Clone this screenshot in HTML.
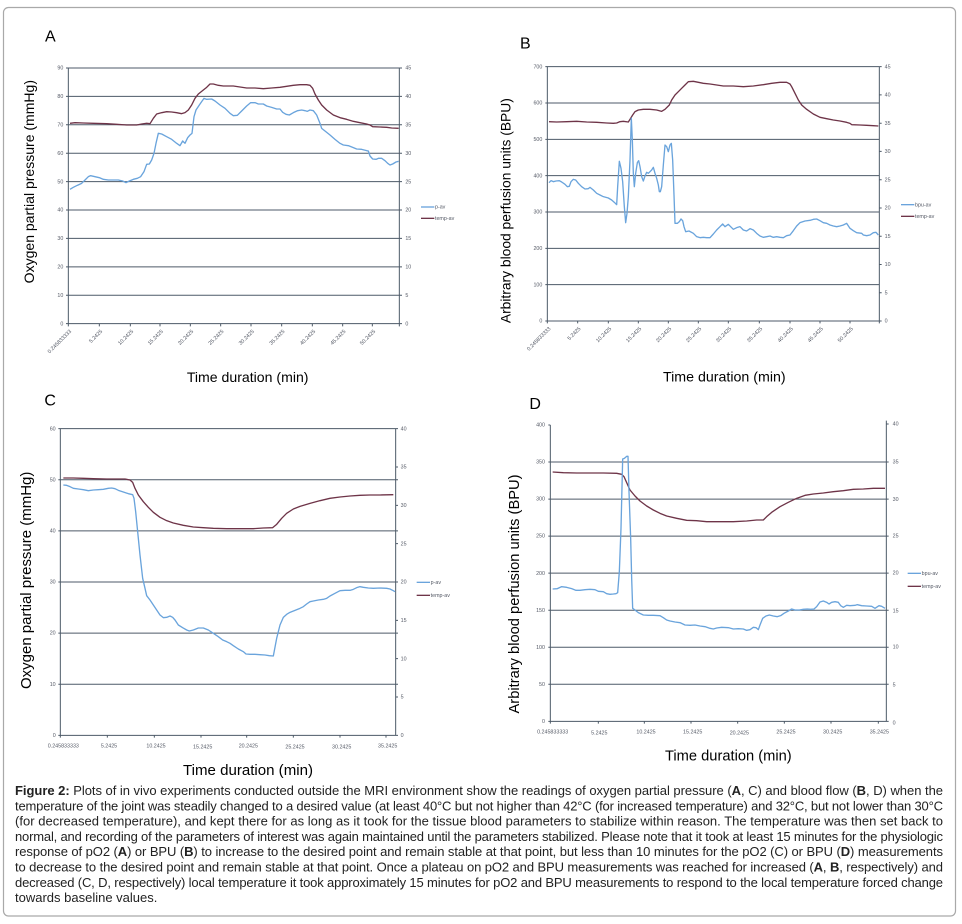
<!DOCTYPE html>
<html><head><meta charset="utf-8"><style>
html,body{margin:0;padding:0;background:#fff;}
svg{display:block;}
.ax{stroke:#4d5a68;stroke-width:3;fill:none;}
.b{fill:none;stroke:#6aa4dc;stroke-width:4;stroke-linejoin:round;}
.m{fill:none;stroke:#6e3448;stroke-width:4;stroke-linejoin:round;}
.tk{font-family:"Liberation Sans",sans-serif;font-size:16px;fill:#555a66;}
.tt{font-family:"Liberation Sans",sans-serif;fill:#000;}
.cap{font-family:"Liberation Sans",sans-serif;font-size:13px;fill:#222;}
</style></head><body>
<svg width="962" height="924" viewBox="0 0 962 924" xmlns="http://www.w3.org/2000/svg">
<rect x="0" y="0" width="962" height="924" fill="#fff"/>
<rect x="3.5" y="7.5" width="952" height="908.5" rx="5" fill="none" stroke="#a9a9a9" stroke-width="1.2"/>

<!-- Panel A -->
<g transform="scale(0.333333)">
<path class="ax" d="M198 204H1206M198 289.2H1206M198 374.4H1206M198 459.7H1206M198 544.9H1206M198 630.1H1206M198 715.3H1206M198 800.6H1206M198 885.8H1206M198 971H1206M205 204V979M1198 204V979"/>
<path class="ax" d="M298 971V979M391 971V979M480 971V979M571 971V979M662 971V979M753 971V979M845 971V979M937 971V979M1028 971V979M1117 971V979"/>
<g class="tk" text-anchor="end">
<text x="190" y="209">90</text><text x="190" y="294">80</text><text x="190" y="379">70</text><text x="190" y="465">60</text><text x="190" y="550">50</text><text x="190" y="635">40</text><text x="190" y="720">30</text><text x="190" y="806">20</text><text x="190" y="891">10</text><text x="190" y="976">0</text>
</g>
<g class="tk">
<text x="1216" y="209">45</text><text x="1216" y="294">40</text><text x="1216" y="379">35</text><text x="1216" y="465">30</text><text x="1216" y="550">25</text><text x="1216" y="635">20</text><text x="1216" y="720">15</text><text x="1216" y="806">10</text><text x="1216" y="891">5</text><text x="1216" y="976">0</text>
</g>
<g class="tk" text-anchor="end">
<text transform="translate(215,995) rotate(-45)">0.245833333</text>
<text transform="translate(308,995) rotate(-45)">5.2425</text>
<text transform="translate(401,995) rotate(-45)">10.2425</text>
<text transform="translate(490,995) rotate(-45)">15.2425</text>
<text transform="translate(581,995) rotate(-45)">20.2425</text>
<text transform="translate(672,995) rotate(-45)">25.2425</text>
<text transform="translate(763,995) rotate(-45)">30.2425</text>
<text transform="translate(855,995) rotate(-45)">35.2425</text>
<text transform="translate(947,995) rotate(-45)">40.2425</text>
<text transform="translate(1038,995) rotate(-45)">45.2425</text>
<text transform="translate(1127,995) rotate(-45)">50.2425</text>
</g>
<polyline class="m" points="210,370 225,368 250,369 280,370 320,371 350,373 380,375 410,375 425,372 440,370 450,371 460,355 470,342 485,338 500,335 515,336 530,338 545,341 555,338 565,330 575,315 585,295 595,282 610,270 620,262 630,252 640,252 655,256 670,258 700,258 720,261 740,264 765,264 790,266 815,264 840,262 860,259 880,256 900,254 920,254 930,256 938,265 945,282 955,300 965,315 980,330 1000,345 1020,353 1040,358 1060,364 1080,368 1100,372 1110,375 1118,380 1140,381 1160,382 1175,384 1196,385"/>
<polyline class="b" points="210,568 220,562 232,556 245,550 255,540 265,530 272,527 285,530 298,533 310,538 325,540 340,540 355,540 368,543 378,548 388,543 400,538 412,535 422,530 432,515 440,493 448,492 455,480 462,460 468,430 475,400 485,402 500,410 515,418 530,430 540,437 548,423 555,430 563,413 570,405 576,400 582,350 588,330 598,315 605,305 612,295 620,298 635,297 645,303 660,315 675,325 690,340 700,347 712,346 725,333 740,318 752,308 765,308 775,312 790,312 800,318 815,322 830,327 840,327 848,337 858,343 868,345 880,338 893,332 905,330 915,332 922,334 930,330 940,332 950,345 960,370 965,385 975,393 990,405 1005,418 1020,430 1030,435 1045,437 1060,443 1070,447 1085,448 1100,452 1105,453 1110,468 1118,477 1128,478 1135,475 1145,475 1155,482 1163,490 1170,495 1178,492 1188,486 1196,484"/>
<line x1="1263" y1="621" x2="1303" y2="621" stroke="#6aa4dc" stroke-width="4"/>
<line x1="1263" y1="655" x2="1303" y2="655" stroke="#6e3448" stroke-width="4"/>
<text class="tk" x="1305" y="626">p-av</text>
<text class="tk" x="1305" y="660">temp-av</text>
<text class="tt" x="135" y="125" font-size="48">A</text>
<text class="tt" font-size="42" text-anchor="middle" transform="translate(102,545) rotate(-90)" textLength="610" lengthAdjust="spacingAndGlyphs">Oxygen partial pressure (mmHg)</text>
<text class="tt" x="743" y="1146" font-size="42" text-anchor="middle" textLength="365" lengthAdjust="spacingAndGlyphs">Time duration (min)</text>
</g>

<!-- Panel B -->
<g transform="translate(480,0) scale(0.333333)">
<path class="ax" d="M196 200H1198M196 309H1198M196 418H1198M196 527H1198M196 636H1198M196 745H1198M196 854H1198M196 963H1198M202 200V970M1198 200V970"/>
<path class="ax" d="M1198 284.8H1205M1198 369.6H1205M1198 454.3H1205M1198 539.1H1205M1198 623.9H1205M1198 708.7H1205M1198 793.4H1205M1198 878.2H1205M1198 963H1205M1198 200H1205"/>
<path class="ax" d="M293 963V970M385 963V970M475 963V970M565 963V970M655 963V970M745 963V970M838 963V970M930 963V970M1020 963V970M1110 963V970"/>
<g class="tk" text-anchor="end">
<text x="187" y="205">700</text><text x="187" y="314">600</text><text x="187" y="423">500</text><text x="187" y="532">400</text><text x="187" y="641">300</text><text x="187" y="750">200</text><text x="187" y="859">100</text><text x="187" y="968">0</text>
</g>
<g class="tk">
<text x="1214" y="205">45</text><text x="1214" y="290">40</text><text x="1214" y="375">35</text><text x="1214" y="459">30</text><text x="1214" y="544">25</text><text x="1214" y="629">20</text><text x="1214" y="714">15</text><text x="1214" y="798">10</text><text x="1214" y="883">5</text><text x="1214" y="968">0</text>
</g>
<g class="tk" text-anchor="end">
<text transform="translate(213,987) rotate(-45)">0.245833333</text>
<text transform="translate(303,987) rotate(-45)">5.2425</text>
<text transform="translate(395,987) rotate(-45)">10.2425</text>
<text transform="translate(485,987) rotate(-45)">15.2425</text>
<text transform="translate(575,987) rotate(-45)">20.2425</text>
<text transform="translate(665,987) rotate(-45)">25.2425</text>
<text transform="translate(755,987) rotate(-45)">30.2425</text>
<text transform="translate(848,987) rotate(-45)">35.2425</text>
<text transform="translate(940,987) rotate(-45)">40.2425</text>
<text transform="translate(1030,987) rotate(-45)">45.2425</text>
<text transform="translate(1120,987) rotate(-45)">50.2425</text>
</g>
<polyline class="m" points="207,365 230,366 260,365 290,364 320,366 350,367 380,369 400,370 410,369 420,365 430,364 445,366 450,358 458,345 465,335 475,330 490,328 510,328 530,330 545,334 555,328 568,315 575,300 585,285 595,275 605,265 615,255 625,245 640,244 655,247 670,250 690,252 710,255 730,258 760,258 790,260 820,258 850,254 875,250 900,247 920,247 930,252 935,260 945,280 955,300 965,315 980,328 1000,342 1020,352 1040,356 1060,360 1080,363 1100,367 1110,370 1115,374 1140,375 1160,376 1180,377 1195,378"/>
<polyline class="b" points="207,548 213,542 220,545 228,543 238,542 245,546 255,553 262,560 268,559 273,545 280,538 287,540 295,550 305,560 315,567 325,566 330,562 340,570 350,580 360,585 370,590 385,594 395,600 403,607 410,614 413,560 418,484 423,505 428,545 433,620 437,668 441,640 445,590 450,480 454,355 457,420 460,520 463,560 467,520 472,488 476,482 480,500 485,530 490,543 495,528 500,517 505,520 510,515 515,510 520,502 525,520 530,535 535,555 538,575 541,575 545,560 550,495 555,435 560,440 565,455 570,435 574,430 578,480 582,585 585,670 592,670 598,665 603,657 608,662 612,680 617,695 627,693 640,700 650,710 660,713 670,712 680,713 690,713 700,702 710,690 720,680 728,672 735,680 745,673 752,680 760,688 770,683 780,680 790,690 800,693 810,686 820,690 830,700 840,708 850,712 860,710 870,708 880,712 890,710 900,712 910,713 920,707 930,705 940,692 950,678 960,668 975,663 990,661 1000,658 1010,657 1020,662 1030,668 1040,670 1050,675 1060,678 1070,680 1080,678 1090,675 1100,670 1110,685 1120,692 1130,698 1145,700 1150,705 1160,707 1170,705 1180,698 1188,697 1195,705"/>
<line x1="1263" y1="614" x2="1303" y2="614" stroke="#6aa4dc" stroke-width="4"/>
<line x1="1263" y1="649" x2="1303" y2="649" stroke="#6e3448" stroke-width="4"/>
<text class="tk" x="1305" y="619">bpu-av</text>
<text class="tk" x="1305" y="654">temp-av</text>
<text class="tt" x="120" y="145" font-size="48">B</text>
<text class="tt" font-size="42" text-anchor="middle" transform="translate(92,632) rotate(-90)" textLength="675" lengthAdjust="spacingAndGlyphs">Arbitrary blood perfusion units (BPU)</text>
<text class="tt" x="733" y="1145" font-size="42" text-anchor="middle" textLength="368" lengthAdjust="spacingAndGlyphs">Time duration (min)</text>
</g>

<!-- Panel C -->
<g transform="translate(0,385) scale(0.333333)">
<path class="ax" d="M175 131H1194M175 284.3H1194M175 437.7H1194M175 591H1194M175 744.3H1194M175 897.7H1194M175 1051H1194M181 131V1058M1187 131V1051"/>
<path class="ax" d="M1187 246H1194M1187 361H1194M1187 476H1194M1187 706H1194M1187 821H1194M1187 936H1194"/>
<path class="ax" d="M322 1051V1058M463 1051V1058M603 1051V1058M740 1051V1058M880 1051V1058M1020 1051V1058M1158 1051V1058"/>
<g class="tk" text-anchor="end">
<text x="167" y="136">60</text><text x="167" y="289">50</text><text x="167" y="443">40</text><text x="167" y="596">30</text><text x="167" y="749">20</text><text x="167" y="903">10</text><text x="167" y="1056">0</text>
</g>
<g class="tk">
<text x="1202" y="136">40</text><text x="1202" y="251">35</text><text x="1202" y="366">30</text><text x="1202" y="481">25</text><text x="1202" y="596">20</text><text x="1202" y="711">15</text><text x="1202" y="826">10</text><text x="1202" y="941">5</text><text x="1202" y="1056">0</text>
</g>
<g class="tk" text-anchor="middle">
<text x="190" y="1088">0.245833333</text><text x="327" y="1088">5.2425</text><text x="468" y="1088">10.2425</text><text x="608" y="1091">15.2425</text><text x="745" y="1088">20.2425</text><text x="885" y="1091">25.2425</text><text x="1025" y="1091">30.2425</text><text x="1163" y="1088">35.2425</text>
</g>
<polyline class="m" points="190,279 220,279 250,280 280,281 320,282 350,282 375,282 390,285 398,292 405,310 415,330 430,350 445,367 460,382 480,397 500,407 520,414 550,421 580,426 610,428 640,430 680,431 720,431 760,431 790,429 818,428 830,418 845,400 860,385 880,372 900,364 930,355 960,347 990,340 1020,336 1050,333 1080,331 1110,330 1140,330 1180,329"/>
<polyline class="b" points="190,300 200,301 210,305 220,310 235,312 250,314 265,317 280,315 295,314 310,313 325,310 335,309 345,311 355,316 370,321 385,326 398,329 402,340 407,380 413,440 420,510 428,580 435,610 440,632 450,645 460,660 470,675 480,690 490,698 500,697 510,693 518,697 525,705 535,720 548,728 560,735 568,738 580,735 595,729 610,729 625,735 640,745 655,755 668,765 680,770 690,775 700,782 715,792 730,800 738,807 750,808 765,808 780,809 795,810 808,812 820,813 830,760 840,720 850,697 860,688 870,682 885,676 900,670 910,665 920,657 930,650 940,648 955,645 970,643 980,640 990,633 1005,625 1020,617 1035,616 1050,616 1060,613 1070,608 1080,605 1090,607 1105,609 1120,610 1140,609 1160,610 1170,612 1180,617 1185,620"/>
<line x1="1250" y1="592" x2="1290" y2="592" stroke="#6aa4dc" stroke-width="4"/>
<line x1="1250" y1="631" x2="1290" y2="631" stroke="#6e3448" stroke-width="4"/>
<text class="tk" x="1292" y="597">p-av</text>
<text class="tk" x="1292" y="636">temp-av</text>
<text class="tt" x="133" y="62" font-size="48">C</text>
<text class="tt" font-size="45" text-anchor="middle" transform="translate(93,586) rotate(-90)" textLength="652" lengthAdjust="spacingAndGlyphs">Oxygen partial pressure (mmHg)</text>
<text class="tt" x="744" y="1170" font-size="45" text-anchor="middle" textLength="390" lengthAdjust="spacingAndGlyphs">Time duration (min)</text>
</g>

<!-- Panel D -->
<g transform="translate(480,385) scale(0.333333)">
<path class="ax" d="M205 231.1H1226M205 342.3H1226M205 453.4H1226M205 564.5H1226M205 675.6H1226M205 786.8H1226M205 897.9H1226M205 1009H1226M205 120H211M211 120V1016M1219 107V1009"/>
<path class="ax" d="M1219 117H1226"/>
<path class="ax" d="M355 1009V1016M493 1009V1016M633 1009V1016M773 1009V1016M913 1009V1016M1053 1009V1016M1195 1009V1016"/>
<g class="tk" text-anchor="end">
<text x="195" y="125">400</text><text x="195" y="236">350</text><text x="195" y="347">300</text><text x="195" y="458">250</text><text x="195" y="570">200</text><text x="195" y="681">150</text><text x="195" y="792">100</text><text x="195" y="903">50</text><text x="195" y="1014">0</text>
</g>
<g class="tk">
<text x="1238" y="122">40</text><text x="1238" y="235">35</text><text x="1238" y="348">30</text><text x="1238" y="457">25</text><text x="1238" y="569">20</text><text x="1238" y="682">15</text><text x="1238" y="791">10</text><text x="1238" y="904">5</text><text x="1238" y="1018">0</text>
</g>
<g class="tk" text-anchor="middle">
<text x="218" y="1045">0.245833333</text><text x="358" y="1049">5.2425</text><text x="498" y="1045">10.2425</text><text x="638" y="1045">15.2425</text><text x="778" y="1049">20.2425</text><text x="918" y="1045">25.2425</text><text x="1058" y="1045">30.2425</text><text x="1198" y="1045">35.2425</text>
</g>
<polyline class="m" points="218,261 250,263 290,264 330,264 370,264 410,265 425,268 432,275 440,293 450,315 465,333 480,348 500,363 520,375 540,385 560,393 590,400 620,406 650,407 680,410 720,410 760,410 800,408 830,405 850,405 860,395 875,382 900,365 925,352 950,340 975,331 1000,327 1030,324 1060,320 1090,317 1120,313 1150,312 1180,310 1215,310"/>
<polyline class="b" points="218,612 232,611 245,605 260,607 275,611 288,616 300,616 315,614 330,613 345,614 355,619 370,620 380,626 390,628 400,627 408,626 413,623 418,560 423,430 428,222 433,220 440,214 444,214 447,320 452,460 455,580 458,670 465,675 475,683 490,690 505,691 520,691 540,692 550,698 560,705 570,708 585,711 600,713 615,720 630,721 645,720 660,723 675,725 690,730 700,732 710,729 725,727 745,728 760,732 775,731 790,732 800,736 810,734 820,727 828,728 835,734 840,720 848,700 858,693 868,690 880,693 892,695 902,692 912,685 925,678 935,672 945,675 958,675 970,673 982,672 992,673 1002,672 1010,665 1020,651 1030,648 1040,652 1047,657 1055,652 1065,650 1075,652 1082,662 1090,667 1100,661 1110,662 1125,661 1132,659 1145,662 1160,663 1175,664 1185,670 1197,662 1205,664 1215,670"/>
<line x1="1283" y1="565" x2="1323" y2="565" stroke="#6aa4dc" stroke-width="4"/>
<line x1="1283" y1="604" x2="1323" y2="604" stroke="#6e3448" stroke-width="4"/>
<text class="tk" x="1325" y="570">bpu-av</text>
<text class="tk" x="1325" y="609">temp-av</text>
<text class="tt" x="148" y="72" font-size="48">D</text>
<text class="tt" font-size="44" text-anchor="middle" transform="translate(117,627) rotate(-90)" textLength="717" lengthAdjust="spacingAndGlyphs">Arbitrary blood perfusion units (BPU)</text>
<text class="tt" x="745" y="1127" font-size="44" text-anchor="middle" textLength="380" lengthAdjust="spacingAndGlyphs">Time duration (min)</text>
</g>

<!-- Caption -->
<g class="cap">
<text x="15" y="795" textLength="928" lengthAdjust="spacing"><tspan font-weight="bold">Figure 2:</tspan> Plots of in vivo experiments conducted outside the MRI environment show the readings of oxygen partial pressure (<tspan font-weight="bold">A</tspan>, C) and blood flow (<tspan font-weight="bold">B</tspan>, D) when the</text>
<text x="15" y="810.3" textLength="928" lengthAdjust="spacing">temperature of the joint was steadily changed to a desired value (at least 40°C but not higher than 42°C (for increased temperature) and 32°C, but not lower than 30°C</text>
<text x="15" y="825.6" textLength="928" lengthAdjust="spacing">(for decreased temperature), and kept there for as long as it took for the tissue blood parameters to stabilize within reason. The temperature was then set back to</text>
<text x="15" y="840.9" textLength="928" lengthAdjust="spacing">normal, and recording of the parameters of interest was again maintained until the parameters stabilized. Please note that it took at least 15 minutes for the physiologic</text>
<text x="15" y="856.2" textLength="928" lengthAdjust="spacing">response of pO2 (<tspan font-weight="bold">A</tspan>) or BPU (<tspan font-weight="bold">B</tspan>) to increase to the desired point and remain stable at that point, but less than 10 minutes for the pO2 (C) or BPU (<tspan font-weight="bold">D</tspan>) measurements</text>
<text x="15" y="871.5" textLength="928" lengthAdjust="spacing">to decrease to the desired point and remain stable at that point. Once a plateau on pO2 and BPU measurements was reached for increased (<tspan font-weight="bold">A</tspan>, <tspan font-weight="bold">B</tspan>, respectively) and</text>
<text x="15" y="886.8" textLength="928" lengthAdjust="spacing">decreased (C, D, respectively) local temperature it took approximately 15 minutes for pO2 and BPU measurements to respond to the local temperature forced change</text>
<text x="15" y="902.1">towards baseline values.</text>
</g>
</svg>
</body></html>
